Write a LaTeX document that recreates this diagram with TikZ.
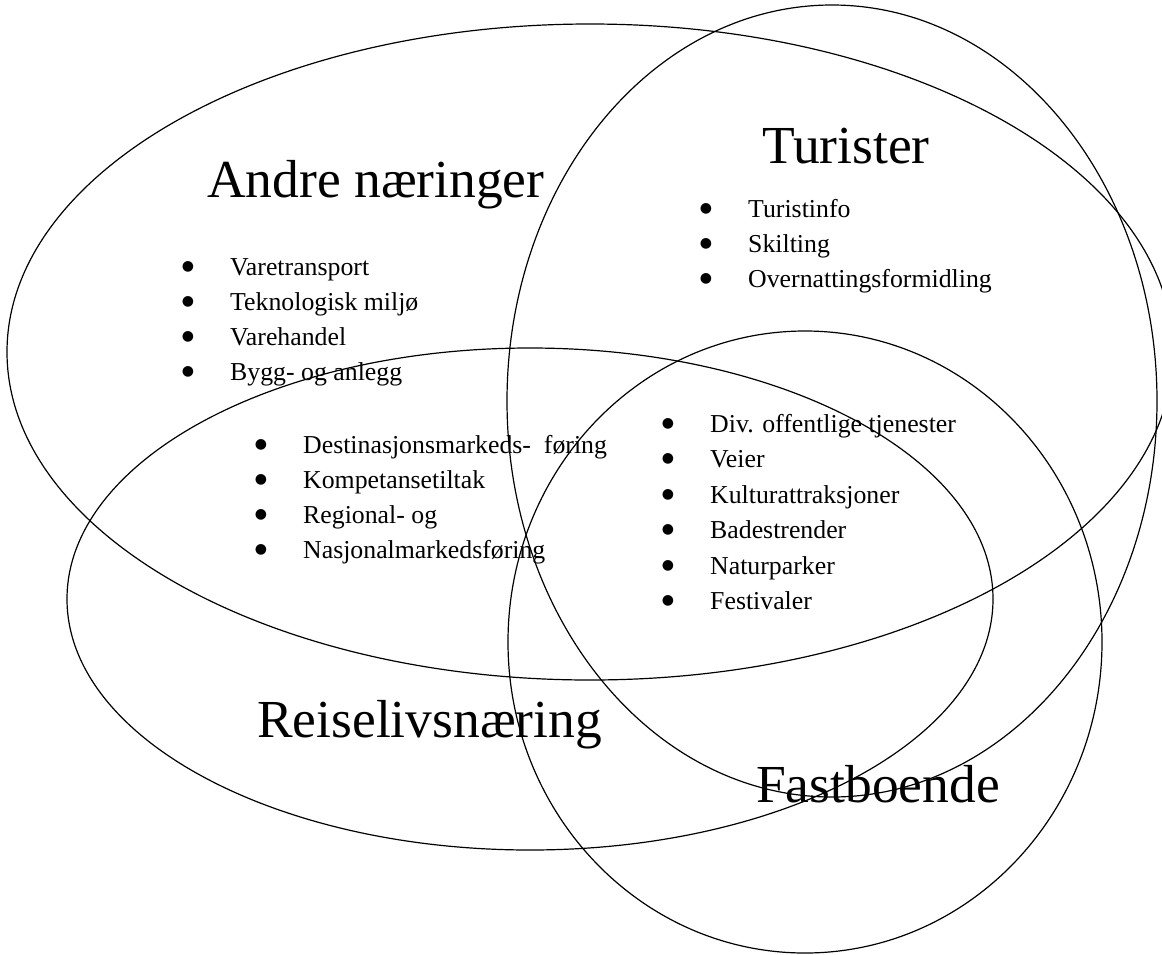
\documentclass[tikz,border=0pt]{standalone}
\usepackage{fontspec}
\setmainfont{Liberation Serif}
\newfontfamily\dejavubul{DejaVu Sans}
\usetikzlibrary{shapes.geometric}
\newcommand{\myitem}[1]{\makebox[48.4pt][l]{\raisebox{5pt}{\dejavubul\fontsize{14}{14}\selectfont ●}}#1}
\begin{document}
\begin{tikzpicture}[x=1pt,y=-1pt,
  venn/.style={draw, ellipse, inner sep=0pt, outer sep=0pt, line width=1.2pt},
  head/.style={anchor=base west, inner sep=0pt, font=\fontsize{53.5}{60}\selectfont},
  item/.style={anchor=base west, inner sep=0pt, font=\fontsize{25.8}{30}\selectfont}]
\useasboundingbox (0,0) rectangle (1162,954);
\clip (0,0) rectangle (1162,954);
% circles of the diagram
\node[venn, minimum width=1166pt, minimum height=656pt] (andre) at (590,352) {};
\node[venn, minimum width=650pt, minimum height=792pt] (turister) at (832,401) {};
\node[venn, minimum width=926pt, minimum height=502pt] (reise) at (530,599) {};
\node[venn, minimum width=594pt, minimum height=622pt] (fast) at (805,642) {};
% headings
\node[head] (hAndre) at (207,197) {Andre næringer};
\node[head] (hTur) at (762,163) {Turister};
\node[head] (hReise) at (257,737) {Reiselivsnæring};
\node[head] (hFast) at (756,802) {Fastboende};
% lists
\foreach \t [count=\i from 0] in {{Varetransport},{Teknologisk miljø},{Varehandel},{Bygg- og anlegg}}
  \node[item] (la\i) at (181.6,{275+35.2*\i}) {\myitem{\t}};
\foreach \t [count=\i from 0] in {{Turistinfo},{Skilting},{Overnattingsformidling}}
  \node[item] (lt\i) at (699.6,{217+35*\i}) {\myitem{\t}};
\foreach \t [count=\i from 0] in {{Destinasjonsmarkeds-\hspace{0.5em}føring},{Kompetansetiltak},{Regional- og},{Nasjonalmarkedsføring}}
  \node[item] (lr\i) at (254.6,{453+35*\i}) {\myitem{\t}};
\foreach \t [count=\i from 0] in {{Div. offentlige tjenester},{Veier},{Kulturattraksjoner},{Badestrender},{Naturparker},{Festivaler}}
  \node[item] (lc\i) at (661.6,{432+35.5*\i}) {\myitem{\t}};
\end{tikzpicture}
\end{document}
